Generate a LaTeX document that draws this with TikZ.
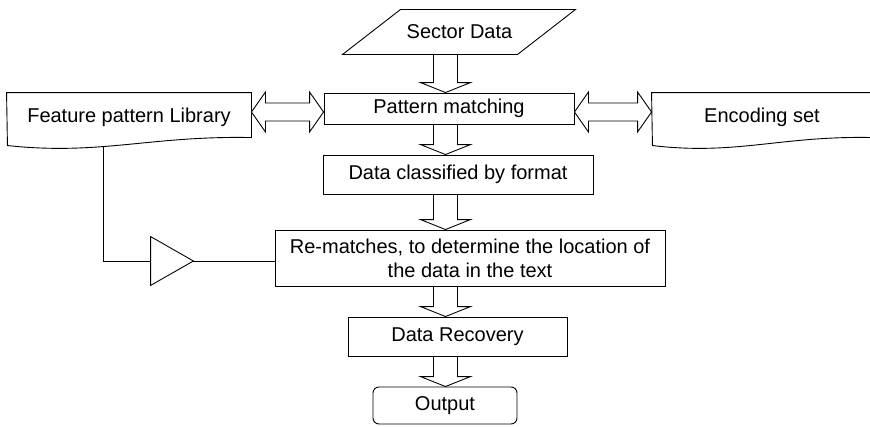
\documentclass[tikz,border=0pt]{standalone}
\usepackage{fontspec}
\setmainfont{Liberation Sans}
\usetikzlibrary{calc}

\tikzset{
  procbox/.style={draw, rectangle, inner sep=2pt},
  plainbox/.style={rectangle, inner sep=2pt},
  hollow/.style={draw, fill=white},
}

% hollow block arrow pointing down, on the spine
\newcommand{\blockdown}[2]{%
  \draw[hollow] let \p1=(#1.south -| spine), \p2=(#2.north -| spine) in
    (\x1-12pt,\y1) -- (\x1-12pt,\y2+10pt) -- (\x1-25pt,\y2+10pt) -- (\x2,\y2)
    -- (\x1+25pt,\y2+10pt) -- (\x1+12pt,\y2+10pt) -- (\x1+12pt,\y1) -- cycle;}
% hollow block arrow with two heads, on the level line
\newcommand{\blockboth}[2]{%
  \draw[hollow] let \p1=(#1.east |- level), \p2=(#2.west |- level) in
    (\x1,\y1) -- (\x1+14pt,\y1+20pt) -- (\x1+14pt,\y1+9pt) -- (\x2-14pt,\y1+9pt)
    -- (\x2-14pt,\y1+20pt) -- (\x2,\y1) -- (\x2-14pt,\y1-20pt) -- (\x2-14pt,\y1-9pt)
    -- (\x1+14pt,\y1-9pt) -- (\x1+14pt,\y1-20pt) -- cycle;}

\begin{document}
\begin{tikzpicture}[x=1pt, y=-1pt, line width=0.9pt, font=\fontsize{20}{24}\selectfont]
  \useasboundingbox (0,0) rectangle (870,426);
  \coordinate (spine) at (445.5,0);
  \coordinate (level) at (0,112);
  \coordinate (tap) at (103,0);

  % process boxes
  \node[plainbox, minimum width=175pt, minimum height=45pt] (sector) at (459.5,31.5) {Sector Data};
  \node[procbox, minimum width=250pt, minimum height=31pt] (match) at (449,108.5) {Pattern matching};
  \node[procbox, minimum width=270pt, minimum height=39pt] (classify) at (458,174.5) {Data classified by format};
  \node[procbox, minimum width=390pt, minimum height=56pt, align=center] (rematch) at (470,258)
    {Re-matches, to determine the location of\\the data in the text};
  \node[procbox, minimum width=219pt, minimum height=39pt] (recover) at (457.5,336.5) {Data Recovery};
  \node[procbox, rounded corners=6pt, minimum width=144pt, minimum height=37pt] (output) at (445,405.5) {Output};

  % documents
  \node[plainbox, minimum width=244pt, minimum height=48pt] (feat) at (129,117) {Feature pattern Library};
  \node[plainbox, minimum width=220pt, minimum height=48pt] (enc) at (762,117) {Encoding set};

  \node[plainbox, minimum width=42pt, minimum height=48pt, inner sep=0pt] (amp) at (172,261) {};

  % feedback line
  \draw (feat.south -| tap) |- (amp.west);
  \draw (amp.east) -- (amp.east -| rematch.west);
  \draw (amp.north west) -- (amp.east) -- (amp.south west) -- cycle;

  \draw[fill=white] (feat.north west) -- (feat.north east) -- ++(0,45)
    .. controls +(-101,-2) and +(93,10) .. ++(-244,8) -- cycle;
  \node at (feat) {Feature pattern Library};
  \draw[fill=white] (enc.north west) -- (enc.north east) -- ++(0,45)
    .. controls +(-91,-2) and +(84,10) .. ++(-220,8) -- cycle;
  \node at (enc) {Encoding set};

  \draw ($(sector.south west)+(-29,0)$) -- ++(175,0) -- ++(58,-45) -- ++(-175,0) -- cycle;

  \foreach \a/\b in {sector/match, match/classify, classify/rematch, rematch/recover, recover/output}
    \blockdown{\a}{\b};
  \blockboth{feat}{match}
  \blockboth{match}{enc}
\end{tikzpicture}
\end{document}
